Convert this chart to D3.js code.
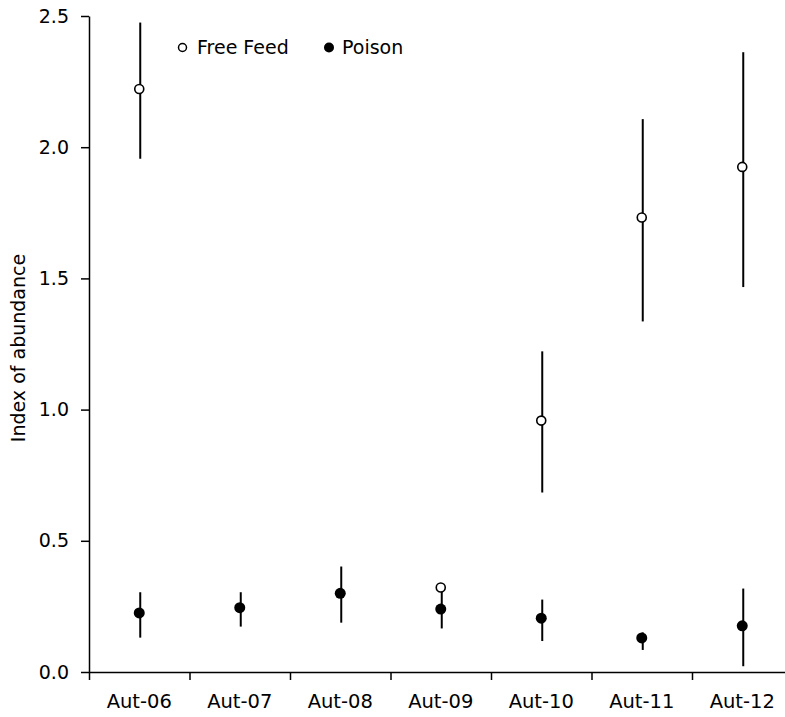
<!DOCTYPE html>
<html>
<head>
<meta charset="utf-8">
<script src="https://cdn.jsdelivr.net/npm/d3@7"></script>
<style>
  body { margin: 0; background: #fff; }
  text { font-family: "DejaVu Sans", Verdana, sans-serif; fill: #000; }
</style>
</head>
<body>
<svg id="chart" width="785" height="717"></svg>
<script>
var categories = ["Aut-06", "Aut-07", "Aut-08", "Aut-09", "Aut-10", "Aut-11", "Aut-12"];

// Free Feed (open circles); Aut-07 and Aut-08 hidden under Poison points
var freeFeed     = [2.222, null, null, 0.322, 0.958, 1.732, 1.925];
var freeFeedLow  = [1.956, null, null, 0.312, 0.684, 1.336, 1.467];
var freeFeedHigh = [2.475, null, null, 0.332, 1.222, 2.107, 2.362];

// Poison (filled circles)
var poison     = [0.225, 0.245, 0.300, 0.240, 0.205, 0.130, 0.176];
var poisonLow  = [0.131, 0.173, 0.188, 0.166, 0.118, 0.084, 0.022];
var poisonHigh = [0.304, 0.304, 0.402, 0.335, 0.276, 0.151, 0.318];

var yTicks = [0, 0.5, 1.0, 1.5, 2.0, 2.5];

var svg = d3.select("#chart"),
    plotLeft = 89, plotRight = 792.5, plotTop = 16, plotBottom = 672;

var x = d3.scaleBand().domain(categories).range([plotLeft, plotRight]).padding(0);
var xEdge = d3.scaleLinear().domain([0, categories.length]).range([plotLeft, plotRight]);
var y = d3.scaleLinear().domain([0, 2.5]).range([plotBottom, plotTop]);

// y axis
var yAxis = svg.append("g")
    .attr("transform", "translate(" + plotLeft + ",0)")
    .call(d3.axisLeft(y).tickValues(yTicks).tickFormat(d3.format(".1f")).tickSize(8).tickSizeOuter(0).tickPadding(12));
yAxis.selectAll("text").style("font-size", "19px");

// x axis: ticks at category boundaries, labels centered in the bands
svg.append("g")
    .attr("transform", "translate(0," + plotBottom + ")")
    .call(d3.axisBottom(xEdge).tickValues(d3.range(0, categories.length)).tickFormat("").tickSize(8).tickSizeOuter(0));

svg.append("g")
    .attr("transform", "translate(0," + plotBottom + ")")
    .call(d3.axisBottom(x).tickSize(0).tickPadding(22))
    .call(function (g) { g.select(".domain").remove(); })
    .selectAll("text").style("font-size", "19.5px");

svg.selectAll(".domain, .tick line").attr("stroke", "#000").attr("stroke-width", 1.5);

// y label
svg.append("text")
    .attr("transform", "translate(25," + ((plotTop + plotBottom) / 2 + 4) + ") rotate(-90)")
    .attr("text-anchor", "middle")
    .style("font-size", "19px")
    .text("Index of abundance");

function cx(i) { return x(categories[i]) + x.bandwidth() / 2; }

var ffIdx = d3.range(categories.length).filter(function (i) { return freeFeed[i] !== null; });
var poIdx = d3.range(categories.length);

// error bars
svg.append("g").selectAll("line")
    .data(ffIdx).enter().append("line")
    .attr("x1", function (i) { return cx(i) + 1; })
    .attr("x2", function (i) { return cx(i) + 1; })
    .attr("y1", function (i) { return y(freeFeedLow[i]); })
    .attr("y2", function (i) { return y(freeFeedHigh[i]); })
    .attr("stroke", "#000").attr("stroke-width", 2);

svg.append("g").selectAll("line")
    .data(poIdx).enter().append("line")
    .attr("x1", function (i) { return cx(i) + 1; })
    .attr("x2", function (i) { return cx(i) + 1; })
    .attr("y1", function (i) { return y(poisonLow[i]); })
    .attr("y2", function (i) { return y(poisonHigh[i]); })
    .attr("stroke", "#000").attr("stroke-width", 2);

// points
svg.append("g").selectAll("circle")
    .data(ffIdx).enter().append("circle")
    .attr("cx", function (i) { return cx(i); })
    .attr("cy", function (i) { return y(freeFeed[i]); })
    .attr("r", 4.5)
    .attr("fill", "#fff").attr("stroke", "#000").attr("stroke-width", 1.6);

svg.append("g").selectAll("circle")
    .data(poIdx).enter().append("circle")
    .attr("cx", function (i) { return cx(i); })
    .attr("cy", function (i) { return y(poison[i]); })
    .attr("r", 5.5)
    .attr("fill", "#000");

// legend
var legend = svg.append("g");
legend.append("circle").attr("cx", 182.5).attr("cy", 47.5).attr("r", 4)
    .attr("fill", "#fff").attr("stroke", "#000").attr("stroke-width", 1.5);
legend.append("text").attr("x", 197).attr("y", 47.5).attr("dy", "0.35em")
    .style("font-size", "19px").text("Free Feed");
legend.append("circle").attr("cx", 329).attr("cy", 47.5).attr("r", 5).attr("fill", "#000");
legend.append("text").attr("x", 342).attr("y", 47.5).attr("dy", "0.35em")
    .style("font-size", "19px").text("Poison");
</script>
</body>
</html>
